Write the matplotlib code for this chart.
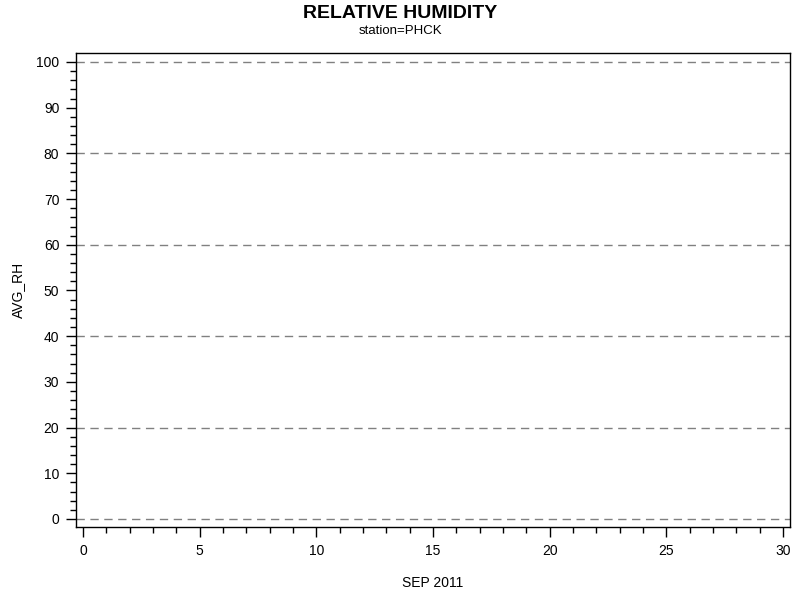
import matplotlib
matplotlib.use("Agg")
import matplotlib.pyplot as plt
from matplotlib.ticker import MultipleLocator

# ------------------------------------------------------------
# Data: no observations were recorded for station PHCK
# ------------------------------------------------------------
station = "PHCK"
days = []       # day of month, SEP 2011
avg_rh = []     # average relative humidity (%)
grid_levels = [0, 20, 40, 60, 80, 100]

plt.rcParams['font.family'] = ['Liberation Sans', 'DejaVu Sans']

fig = plt.figure(figsize=(8, 6), dpi=100)
ax = fig.add_axes([0.095, 0.1217, 0.8925, 0.79])

ax.plot(days, avg_rh, color='black', lw=1)

for lvl in grid_levels:
    ax.axhline(lvl, color='#808080', lw=1, ls=(0, (6, 4)), zorder=0)

ax.set_xlim(-0.3, 30.3)
ax.set_ylim(-1.75, 101.97)

ax.xaxis.set_major_locator(MultipleLocator(5))
ax.xaxis.set_minor_locator(MultipleLocator(1))
ax.yaxis.set_major_locator(MultipleLocator(10))
ax.yaxis.set_minor_locator(MultipleLocator(2))

ax.tick_params(which='major', direction='out', length=7, width=1,
               labelsize=10, pad=5)
ax.tick_params(which='minor', direction='out', length=4, width=1)
for s in ax.spines.values():
    s.set_linewidth(1)

ax.set_xlabel('SEP 2011', fontsize=10, labelpad=13)
ax.set_ylabel('AVG_RH', fontsize=10, labelpad=8)

fig.text(0.5, 0.978, 'RELATIVE HUMIDITY', ha='center', va='center',
         fontsize=14, fontweight='bold')
fig.text(0.5, 0.949, f'station={station}', ha='center', va='center',
         fontsize=9.5)

fig.savefig('out.png', dpi=100)
